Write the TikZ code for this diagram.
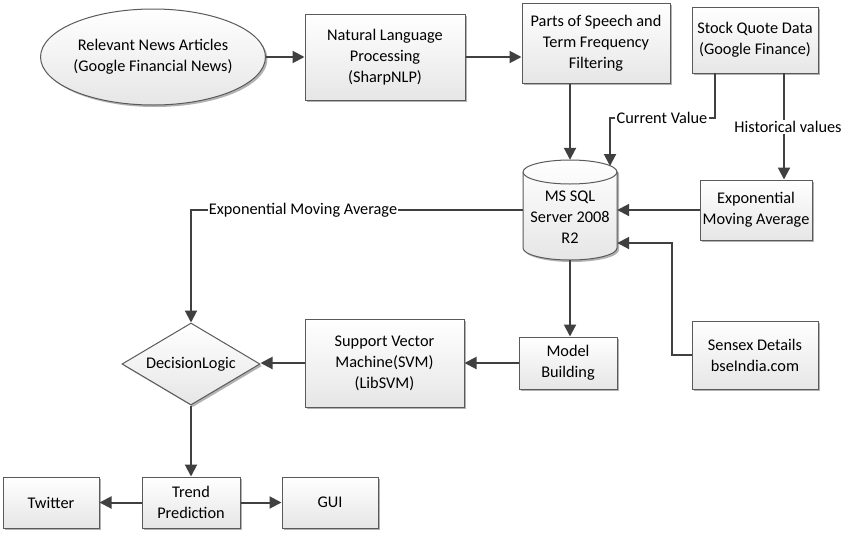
\documentclass[tikz,border=0pt]{standalone}
\usepackage{fontspec}
\setmainfont{Carlito}
\usetikzlibrary{shapes.geometric,arrows.meta,shadows,calc}
\definecolor{ln}{HTML}{404040}
\definecolor{boxline}{HTML}{5A5A5A}
\definecolor{boxfill}{HTML}{E6E6E6}
\begin{document}
\begin{tikzpicture}[x=1pt,y=-1pt,
  font=\fontsize{16.3}{21}\selectfont,
  shad/.style={drop shadow={shadow xshift=2pt,shadow yshift=-2pt,opacity=0.3,fill=black}},
  boxbase/.style={draw=boxline, line width=1pt, top color=white, bottom color=boxfill, shad, align=center, inner sep=2pt, text=black},
  box/.style={boxbase, rectangle},
  arr/.style={draw=ln, line width=2pt, -{Triangle[length=12pt,width=12pt]}},
  plain/.style={draw=ln, line width=2pt},
  lbl/.style={inner sep=1pt, text=black}
]
\useasboundingbox (0,0) rectangle (856,536);
\fill[white] (0,0) rectangle (856,536);

% nodes
\node[boxbase, ellipse, minimum width=176pt, minimum height=96pt, inner sep=0pt] (news) at (153,57) {Relevant News Articles\\(Google Financial News)};
\node[box, minimum width=160pt, minimum height=86pt] (nlp) at (385,57) {Natural Language\\Processing\\(SharpNLP)};
\node[box, minimum width=148pt, minimum height=80pt] (pos) at (596,43) {Parts of Speech and\\Term Frequency\\Filtering};
\node[box, minimum width=126pt, minimum height=66pt] (sq) at (755,40) {Stock Quote Data\\(Google Finance)};
\node[box, minimum width=112pt, minimum height=60pt] (ema) at (756,210) {Exponential\\Moving Average};
\node[box, minimum width=126pt, minimum height=68pt] (sensex) at (755,355) {Sensex Details\\bseIndia.com};
\node[box, minimum width=98pt, minimum height=52pt] (model) at (568,363) {Model\\Building};
\node[box, minimum width=159pt, minimum height=88pt] (svm) at (384.5,363) {Support Vector\\Machine(SVM)\\(LibSVM)};
\node[boxbase, diamond, minimum width=138pt, minimum height=82pt, aspect=1.68, inner sep=0pt] (dl) at (191,364) {DecisionLogic};
\node[box, minimum width=96pt, minimum height=51pt] (twitter) at (51,502.5) {Twitter};
\node[box, minimum width=98pt, minimum height=51pt] (trend) at (191,502.5) {Trend\\Prediction};
\node[box, minimum width=96pt, minimum height=51pt] (gui) at (330,502.5) {GUI};

% cylinder (database)
\path[draw=boxline, line width=1pt, top color=white, bottom color=boxfill, shad]
  (523,172) -- (523,248) arc[start angle=180, end angle=360, x radius=47pt, y radius=12pt]
  -- (617,172) arc[start angle=0, end angle=180, x radius=47pt, y radius=12pt] -- cycle;
\draw[boxline, line width=1pt] (523,172) arc[start angle=180, end angle=360, x radius=47pt, y radius=12pt];
\node[minimum width=94pt, minimum height=100pt, inner sep=0pt] (db) at (570,210) {};
\node[align=center, inner sep=0pt] (dbtext) at (570,217) {MS SQL\\Server 2008\\R2};
\coordinate (cvtip) at (610,166);
\coordinate (cvx) at (715,73);
\coordinate (hvx) at (784,73);

% labels
\node[lbl] (cv) at (662,118) {Current Value};
\node[lbl] (hv) at (788,127) {Historical values};
\node[lbl] (emal) at (303,210) {Exponential Moving Average};

% connectors
\draw[arr] (news.east) -- (news.east -| nlp.west);
\draw[arr] (nlp.east) -- (nlp.east -| pos.west);
\draw[arr] (pos.south -| db.north) -- (db.north);
\draw[plain] (cvx) |- (cv.east);
\draw[arr] (cv.west) -| (cvtip);
\draw[plain] (hvx) -- (hvx |- hv.north);
\draw[arr] (hvx |- hv.south) -- (hvx |- ema.north);
\draw[arr] (ema.west) -- (ema.west -| db.east);
\draw[arr] (sensex.west) -- ++(-20,0) |- ($(db.east)+(0,33)$);
\draw[arr] (db.south) -- (db.south |- model.north);
\draw[arr] (model.west) -- (model.west -| svm.east);
\draw[arr] (svm.west) -- (svm.west -| dl.east);
\draw[plain] (db.west) -- (emal.east);
\draw[arr] (emal.west) -| (dl.north);
\draw[arr] (dl.south) -- (trend.north);
\draw[arr] (trend.west) -- (twitter.east);
\draw[arr] (trend.east) -- (gui.west);
\end{tikzpicture}
\end{document}
